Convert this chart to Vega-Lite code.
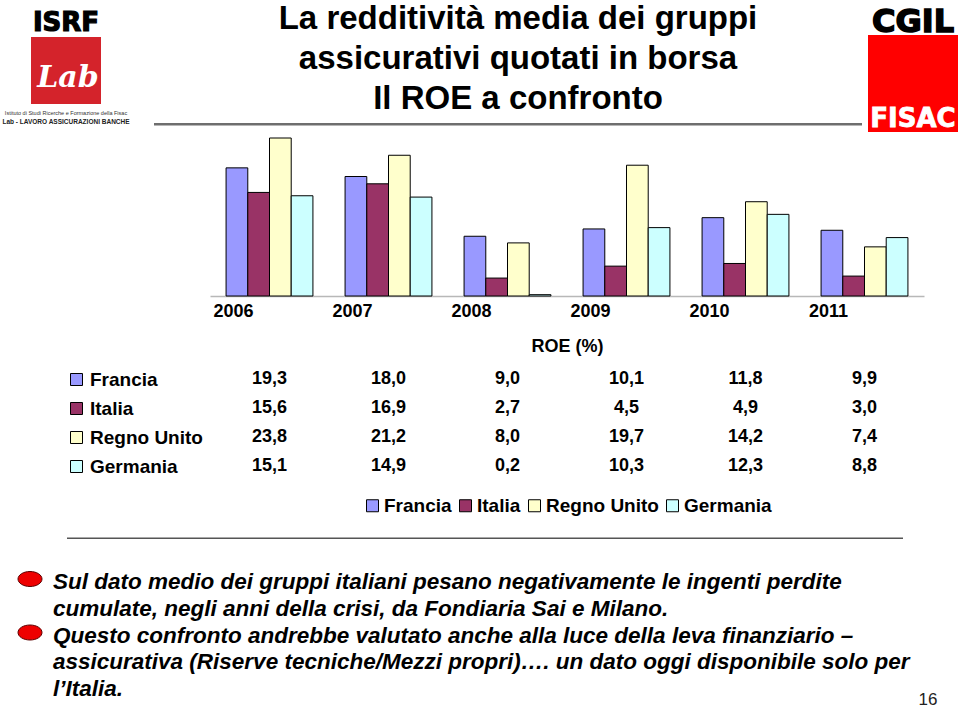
{
  "$schema": "https://vega.github.io/schema/vega-lite/v6.json",
  "width": 960,
  "height": 709,
  "padding": 0,
  "autosize": {"type": "none"},
  "background": "white",
  "config": {
    "view": {"stroke": null},
    "locale": {"number": {"decimal": ",", "thousands": ".", "grouping": [3], "currency": ["€", ""]}}
  },
  "datasets": {
    "roe": [
      {"anno": 2006, "paese": "Francia", "roe": 19.3},
      {"anno": 2006, "paese": "Italia", "roe": 15.6},
      {"anno": 2006, "paese": "Regno Unito", "roe": 23.8},
      {"anno": 2006, "paese": "Germania", "roe": 15.1},
      {"anno": 2007, "paese": "Francia", "roe": 18.0},
      {"anno": 2007, "paese": "Italia", "roe": 16.9},
      {"anno": 2007, "paese": "Regno Unito", "roe": 21.2},
      {"anno": 2007, "paese": "Germania", "roe": 14.9},
      {"anno": 2008, "paese": "Francia", "roe": 9.0},
      {"anno": 2008, "paese": "Italia", "roe": 2.7},
      {"anno": 2008, "paese": "Regno Unito", "roe": 8.0},
      {"anno": 2008, "paese": "Germania", "roe": 0.2},
      {"anno": 2009, "paese": "Francia", "roe": 10.1},
      {"anno": 2009, "paese": "Italia", "roe": 4.5},
      {"anno": 2009, "paese": "Regno Unito", "roe": 19.7},
      {"anno": 2009, "paese": "Germania", "roe": 10.3},
      {"anno": 2010, "paese": "Francia", "roe": 11.8},
      {"anno": 2010, "paese": "Italia", "roe": 4.9},
      {"anno": 2010, "paese": "Regno Unito", "roe": 14.2},
      {"anno": 2010, "paese": "Germania", "roe": 12.3},
      {"anno": 2011, "paese": "Francia", "roe": 9.9},
      {"anno": 2011, "paese": "Italia", "roe": 3.0},
      {"anno": 2011, "paese": "Regno Unito", "roe": 7.4},
      {"anno": 2011, "paese": "Germania", "roe": 8.8}
    ],
    "titolo": [
      {"riga": 1, "testo": "La redditività media dei gruppi"},
      {"riga": 2, "testo": "assicurativi quotati in borsa"},
      {"riga": 3, "testo": "Il ROE a confronto"}
    ],
    "nota": [
      {"riga": 1, "punto": true, "testo": "Sul dato medio dei gruppi italiani pesano negativamente le ingenti perdite"},
      {"riga": 2, "punto": false, "testo": "cumulate, negli anni della crisi, da Fondiaria Sai e Milano."},
      {"riga": 3, "punto": true, "testo": "Questo confronto andrebbe valutato anche alla luce della leva finanziario –"},
      {"riga": 4, "punto": false, "testo": "assicurativa (Riserve tecniche/Mezzi propri)…. un dato oggi disponibile solo per"},
      {"riga": 5, "punto": false, "testo": "l’Italia."}
    ]
  },
  "resolve": {
    "scale": {"x": "independent", "y": "independent", "color": "independent", "xOffset": "independent"},
    "axis": {"x": "independent", "y": "independent"},
    "legend": {"color": "independent"}
  },
  "layer": [
    {
      "data": {"name": "titolo"},
      "mark": {"type": "text", "font": "Liberation Sans", "fontSize": 33, "fontWeight": "bold", "color": "black", "align": "center", "baseline": "alphabetic"},
      "encoding": {
        "x": {"datum": "titolo", "type": "nominal", "scale": {"type": "point", "range": [518, 518]}, "axis": null},
        "y": {"field": "riga", "type": "ordinal", "scale": {"type": "point", "range": [29, 109], "padding": 0}, "axis": null},
        "text": {"field": "testo"}
      }
    },
    {
      "data": {"values": [{"linea": "intestazione"}]},
      "mark": {"type": "rect", "color": "#6e6e6e"},
      "encoding": {
        "x": {"field": "linea", "type": "nominal", "scale": {"type": "band", "range": [154, 862], "paddingInner": 0, "paddingOuter": 0}, "axis": null},
        "y": {"field": "linea", "type": "nominal", "scale": {"type": "band", "range": [123, 125.5], "paddingInner": 0, "paddingOuter": 0}, "axis": null}
      }
    },
    {
      "data": {"values": [{"logo": "ISRF Lab"}]},
      "mark": {"type": "rect", "color": "#d4232b"},
      "encoding": {
        "x": {"field": "logo", "type": "nominal", "scale": {"type": "band", "range": [31, 101], "paddingInner": 0, "paddingOuter": 0}, "axis": null},
        "y": {"field": "logo", "type": "nominal", "scale": {"type": "band", "range": [37, 104], "paddingInner": 0, "paddingOuter": 0}, "axis": null}
      }
    },
    {
      "data": {"values": [{"testo": "ISRF"}]},
      "mark": {"type": "text", "font": "DejaVu Sans", "fontSize": 26, "fontWeight": "bold", "color": "black", "stroke": "black", "strokeWidth": 1.2, "align": "center", "baseline": "middle"},
      "encoding": {
        "x": {"field": "testo", "type": "nominal", "scale": {"type": "point", "range": [66, 66]}, "axis": null},
        "y": {"field": "testo", "type": "nominal", "scale": {"type": "point", "range": [23, 23]}, "axis": null},
        "text": {"field": "testo"}
      }
    },
    {
      "data": {"values": [{"testo": "Lab"}]},
      "mark": {"type": "text", "font": "DejaVu Serif", "fontSize": 30, "fontWeight": "bold", "fontStyle": "italic", "color": "white", "align": "center", "baseline": "middle"},
      "encoding": {
        "x": {"field": "testo", "type": "nominal", "scale": {"type": "point", "range": [68, 68]}, "axis": null},
        "y": {"field": "testo", "type": "nominal", "scale": {"type": "point", "range": [78, 78]}, "axis": null},
        "text": {"field": "testo"}
      }
    },
    {
      "data": {"values": [{"testo": "Istituto di Studi Ricerche e Formazione della Fisac"}]},
      "mark": {"type": "text", "font": "Liberation Sans", "fontSize": 5.5, "color": "#333333", "align": "center", "baseline": "middle"},
      "encoding": {
        "x": {"field": "testo", "type": "nominal", "scale": {"type": "point", "range": [66, 66]}, "axis": null},
        "y": {"field": "testo", "type": "nominal", "scale": {"type": "point", "range": [113, 113]}, "axis": null},
        "text": {"field": "testo"}
      }
    },
    {
      "data": {"values": [{"testo": "Lab - LAVORO ASSICURAZIONI BANCHE"}]},
      "mark": {"type": "text", "font": "Liberation Sans", "fontSize": 6.5, "fontWeight": "bold", "color": "#222222", "align": "center", "baseline": "middle"},
      "encoding": {
        "x": {"field": "testo", "type": "nominal", "scale": {"type": "point", "range": [66, 66]}, "axis": null},
        "y": {"field": "testo", "type": "nominal", "scale": {"type": "point", "range": [122, 122]}, "axis": null},
        "text": {"field": "testo"}
      }
    },
    {
      "data": {"values": [{"testo": "CGIL"}]},
      "mark": {"type": "text", "font": "DejaVu Sans", "fontSize": 32, "fontWeight": "bold", "color": "black", "stroke": "black", "strokeWidth": 1.5, "align": "center", "baseline": "middle"},
      "encoding": {
        "x": {"field": "testo", "type": "nominal", "scale": {"type": "point", "range": [913, 913]}, "axis": null},
        "y": {"field": "testo", "type": "nominal", "scale": {"type": "point", "range": [22, 22]}, "axis": null},
        "text": {"field": "testo"}
      }
    },
    {
      "data": {"values": [{"logo": "CGIL FISAC"}]},
      "mark": {"type": "rect", "color": "#ff0000"},
      "encoding": {
        "x": {"field": "logo", "type": "nominal", "scale": {"type": "band", "range": [868, 958], "paddingInner": 0, "paddingOuter": 0}, "axis": null},
        "y": {"field": "logo", "type": "nominal", "scale": {"type": "band", "range": [35, 132], "paddingInner": 0, "paddingOuter": 0}, "axis": null}
      }
    },
    {
      "data": {"values": [{"testo": "FISAC"}]},
      "mark": {"type": "text", "font": "DejaVu Sans", "fontSize": 26, "fontWeight": "bold", "color": "white", "stroke": "white", "strokeWidth": 0.8, "align": "center", "baseline": "middle"},
      "encoding": {
        "x": {"field": "testo", "type": "nominal", "scale": {"type": "point", "range": [913, 913]}, "axis": null},
        "y": {"field": "testo", "type": "nominal", "scale": {"type": "point", "range": [119, 119]}, "axis": null},
        "text": {"field": "testo"}
      }
    },
    {
      "data": {"name": "roe"},
      "mark": {"type": "bar", "stroke": "black", "strokeWidth": 1},
      "encoding": {
        "x": {
          "field": "anno", "type": "nominal",
          "scale": {"type": "band", "range": [210, 924], "paddingInner": 0.27, "paddingOuter": 0.135},
          "axis": {
            "orient": "bottom", "offset": -413, "domainColor": "#b8b8b8", "domainWidth": 1.5, "ticks": false, "grid": false,
            "labelAngle": 0, "labelFont": "Liberation Sans", "labelFontSize": 18, "labelFontWeight": "bold", "labelColor": "black",
            "labelPadding": 6, "labelOffset": -36,
            "title": "ROE (%)", "titleFont": "Liberation Sans", "titleFontSize": 18, "titleFontWeight": "bold", "titleColor": "black", "titlePadding": 17
          }
        },
        "xOffset": {"field": "paese", "type": "nominal", "scale": {"domain": ["Francia", "Italia", "Regno Unito", "Germania"], "paddingInner": 0, "paddingOuter": 0}},
        "y": {"field": "roe", "type": "quantitative", "scale": {"domain": [0, 23.8], "range": [296, 138], "nice": false, "zero": true}, "axis": null},
        "color": {
          "field": "paese", "type": "nominal",
          "scale": {"domain": ["Francia", "Italia", "Regno Unito", "Germania"], "range": ["#9999ff", "#993366", "#ffffcc", "#ccffff"]},
          "legend": {
            "orient": "none", "legendX": 363, "legendY": 496, "direction": "horizontal", "title": null, "padding": 0,
            "symbolType": "square", "symbolSize": 144, "symbolStrokeColor": "black", "symbolStrokeWidth": 1,
            "labelFont": "Liberation Sans", "labelFontSize": 19, "labelFontWeight": "bold", "labelColor": "black",
            "labelOffset": 2, "columnPadding": 4
          }
        }
      }
    },
    {
      "data": {"name": "roe"},
      "mark": {"type": "text", "font": "Liberation Sans", "fontSize": 18, "fontWeight": "bold", "color": "black", "align": "center", "baseline": "middle"},
      "encoding": {
        "x": {"field": "anno", "type": "nominal", "scale": {"type": "band", "range": [210, 924], "paddingInner": 0.27, "paddingOuter": 0.135}, "axis": null},
        "y": {"field": "paese", "type": "nominal", "scale": {"type": "point", "domain": ["Francia", "Italia", "Regno Unito", "Germania"], "range": [379, 466], "padding": 0}, "axis": null},
        "text": {"field": "roe", "type": "quantitative", "format": ".1f"}
      }
    },
    {
      "data": {"name": "roe"},
      "mark": {"type": "square", "opacity": 0},
      "encoding": {
        "color": {
          "field": "paese", "type": "nominal",
          "scale": {"domain": ["Francia", "Italia", "Regno Unito", "Germania"], "range": ["#9999ff", "#993366", "#ffffcc", "#ccffff"]},
          "legend": {
            "orient": "none", "legendX": 67, "legendY": 370, "direction": "vertical", "title": null, "padding": 0,
            "symbolType": "square", "symbolSize": 144, "symbolStrokeColor": "black", "symbolStrokeWidth": 1, "symbolOpacity": 1,
            "labelFont": "Liberation Sans", "labelFontSize": 19, "labelFontWeight": "bold", "labelColor": "black",
            "labelOffset": 4, "rowPadding": 9
          }
        }
      }
    },
    {
      "data": {"values": [{"linea": "separatore"}]},
      "mark": {"type": "rect", "color": "#555555"},
      "encoding": {
        "x": {"field": "linea", "type": "nominal", "scale": {"type": "band", "range": [67, 903], "paddingInner": 0, "paddingOuter": 0}, "axis": null},
        "y": {"field": "linea", "type": "nominal", "scale": {"type": "band", "range": [537.5, 539], "paddingInner": 0, "paddingOuter": 0}, "axis": null}
      }
    },
    {
      "data": {"name": "nota"},
      "transform": [{"filter": "datum.punto"}],
      "mark": {"type": "point", "filled": true, "color": "#ee0000", "stroke": "#5a0000", "strokeWidth": 1, "opacity": 1, "size": 576, "shape": "M-1,0A1,0.625 0 1,1 1,0A1,0.625 0 1,1 -1,0Z"},
      "encoding": {
        "x": {"datum": "punto", "type": "nominal", "scale": {"type": "point", "range": [30, 30]}, "axis": null},
        "y": {"field": "riga", "type": "ordinal", "scale": {"type": "point", "domain": [1, 2, 3, 4, 5], "range": [579, 686], "padding": 0}, "axis": null}
      }
    },
    {
      "data": {"name": "nota"},
      "mark": {"type": "text", "font": "Liberation Sans", "fontSize": 22.5, "fontWeight": "bold", "fontStyle": "italic", "color": "black", "align": "left", "baseline": "middle"},
      "encoding": {
        "x": {"datum": "nota", "type": "nominal", "scale": {"type": "point", "range": [53, 53]}, "axis": null},
        "y": {"field": "riga", "type": "ordinal", "scale": {"type": "point", "domain": [1, 2, 3, 4, 5], "range": [582, 689], "padding": 0}, "axis": null},
        "text": {"field": "testo"}
      }
    },
    {
      "data": {"values": [{"pagina": "16"}]},
      "mark": {"type": "text", "font": "Liberation Sans", "fontSize": 17, "color": "#222222", "align": "center", "baseline": "middle"},
      "encoding": {
        "x": {"field": "pagina", "type": "nominal", "scale": {"type": "point", "range": [928, 928]}, "axis": null},
        "y": {"field": "pagina", "type": "nominal", "scale": {"type": "point", "range": [700, 700]}, "axis": null},
        "text": {"field": "pagina"}
      }
    }
  ]
}
